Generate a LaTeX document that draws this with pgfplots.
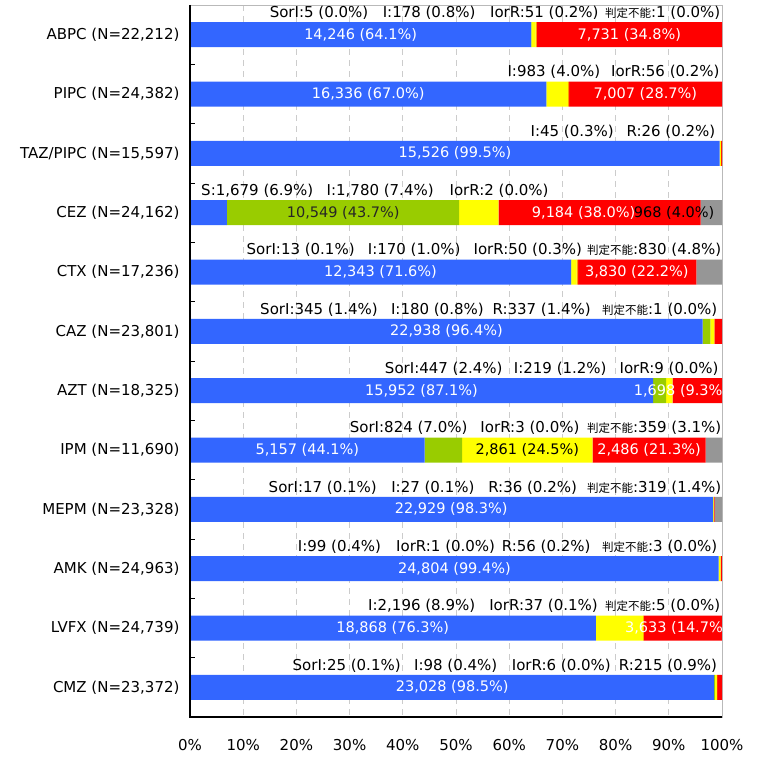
\documentclass[border=0pt]{standalone}
\usepackage{fontspec}
\setmainfont{DejaVu Sans}
\newfontfamily\jp{Noto Sans CJK JP}
\usepackage{pgfplots}
\usepackage{pgfplotstable}
\pgfplotsset{compat=1.18}
\definecolor{cS}{HTML}{3366FF}
\definecolor{cSI}{HTML}{99CC00}
\definecolor{cI}{HTML}{FFFF00}
\definecolor{cIR}{HTML}{FF9900}
\definecolor{cR}{HTML}{FF0000}
\definecolor{cND}{HTML}{969696}
\pgfplotstableread{
y S SorI I IorR R ND
0 64.14 0.02 0.80 0.23 34.81 0.00
1 67.00 0.00 4.03 0.23 28.74 0.00
2 99.54 0.00 0.29 0.00 0.17 0.00
3 6.95 43.66 7.37 0.01 38.01 4.01
4 71.61 0.08 0.99 0.29 22.22 4.81
5 96.37 1.45 0.76 0.00 1.42 0.00
6 87.05 2.44 1.20 0.05 9.26 0.00
7 44.11 7.05 24.47 0.03 21.27 3.07
8 98.29 0.07 0.12 0.00 0.15 1.37
9 99.36 0.00 0.40 0.00 0.22 0.01
10 76.27 0.00 8.88 0.15 14.68 0.02
11 98.53 0.11 0.42 0.03 0.91 0.00
}\data
\newcommand{\JP}{{\jp\fontsize{11.5}{13}\selectfont 判定不能}}
\tikzset{ann/.style={font=\fontsize{15}{17}\selectfont, inner sep=0pt, text=black},
 lab/.style={font=\fontsize{14.5}{16}\selectfont, inner sep=0pt}}
\begin{document}
\begin{tikzpicture}
\useasboundingbox (0pt,0pt) rectangle (761pt,756pt);
\begin{axis}[at={(190pt,39pt)}, anchor=south west, scale only axis,
 width=532pt, height=712pt,
 xbar stacked, bar width=25pt,
 xmin=0, xmax=100, ymin=-0.5, ymax=11.5, y dir=reverse,
 xtick={0,10,...,100}, xticklabel={\pgfmathprintnumber{\tick}\%},
 ytick={0,...,11},
 yticklabels={{ABPC (N=22,212)},{PIPC (N=24,382)},{TAZ/PIPC (N=15,597)},{CEZ (N=24,162)},{CTX (N=17,236)},{CAZ (N=23,801)},{AZT (N=18,325)},{IPM (N=11,690)},{MEPM (N=23,328)},{AMK (N=24,963)},{LVFX (N=24,739)},{CMZ (N=23,372)}},
 extra y ticks={0.5,1.5,...,10.5},
 extra y tick labels={},
 extra y tick style={major tick length=5pt, tick style={black, line width=1pt}},
 major tick length=0pt, tick align=inside,
 xtick pos=bottom, ytick pos=left,
 xmajorgrids, major grid style={dash pattern=on 6pt off 5pt, gray!40, line width=0.8pt},
 axis line style={gray!55, line width=1pt},
 clip=false,
 /pgf/number format/assume math mode=true,
 tick label style={font=\fontsize{15}{17}\selectfont, text=black},
 yticklabel style={xshift=-7pt},
 xticklabel style={yshift=-19pt},
]
\addplot[fill=cS, draw=none] table[x=S, y=y]{\data};
\addplot[fill=cSI, draw=none] table[x=SorI, y=y]{\data};
\addplot[fill=cI, draw=none] table[x=I, y=y]{\data};
\addplot[fill=cIR, draw=none] table[x=IorR, y=y]{\data};
\addplot[fill=cR, draw=none] table[x=R, y=y]{\data};
\addplot[fill=cND, draw=none] table[x=ND, y=y]{\data};
\coordinate (LL) at (axis cs:0,11.5);
\coordinate (UR) at (axis cs:100,-0.5);
\coordinate (BL) at (axis description cs:0,0);
\coordinate (TL) at (axis description cs:0,1);
\coordinate (BR) at (axis description cs:1,0);
% inside label positions
\coordinate (L1) at (axis cs:32.07,0);
\coordinate (L2) at (axis cs:82.6,0);
\coordinate (L3) at (axis cs:33.5,1);
\coordinate (L4) at (axis cs:85.6,1);
\coordinate (L5) at (axis cs:49.8,2);
\coordinate (L6) at (axis cs:28.8,3);
\coordinate (L7) at (axis cs:74.0,3);
\coordinate (L8) at (axis cs:91.0,3);
\coordinate (L9) at (axis cs:35.8,4);
\coordinate (L10) at (axis cs:84.0,4);
\coordinate (L11) at (axis cs:48.2,5);
\coordinate (L12) at (axis cs:43.5,6);
\coordinate (L13) at (axis cs:92.3,6);
\coordinate (L14) at (axis cs:22.06,7);
\coordinate (L15) at (axis cs:63.4,7);
\coordinate (L16) at (axis cs:86.3,7);
\coordinate (L17) at (axis cs:49.1,8);
\coordinate (L18) at (axis cs:49.7,9);
\coordinate (L19) at (axis cs:38.1,10);
\coordinate (L20) at (axis cs:91.5,10);
\coordinate (L21) at (axis cs:49.3,11);
% annotations above bars
\node[ann] at (axis cs:24.25,-0.37) {SorI:5 (0.0\%)};
\node[ann] at (axis cs:44.95,-0.37) {I:178 (0.8\%)};
\node[ann] at (axis cs:66.6,-0.37) {IorR:51 (0.2\%)};
\node[ann] at (axis cs:88.85,-0.37) {\JP:1 (0.0\%)};
\node[ann] at (axis cs:68.4,0.63) {I:983 (4.0\%)};
\node[ann] at (axis cs:89.35,0.63) {IorR:56 (0.2\%)};
\node[ann] at (axis cs:71.85,1.63) {I:45 (0.3\%)};
\node[ann] at (axis cs:90.4,1.63) {R:26 (0.2\%)};
\node[ann] at (axis cs:12.65,2.63) {S:1,679 (6.9\%)};
\node[ann] at (axis cs:35.75,2.63) {I:1,780 (7.4\%)};
\node[ann] at (axis cs:58.1,2.63) {IorR:2 (0.0\%)};
\node[ann] at (axis cs:20.8,3.63) {SorI:13 (0.1\%)};
\node[ann] at (axis cs:42.15,3.63) {I:170 (1.0\%)};
\node[ann] at (axis cs:63.5,3.63) {IorR:50 (0.3\%)};
\node[ann] at (axis cs:87.25,3.63) {\JP:830 (4.8\%)};
\node[ann] at (axis cs:24.25,4.63) {SorI:345 (1.4\%)};
\node[ann] at (axis cs:46.5,4.63) {I:180 (0.8\%)};
\node[ann] at (axis cs:66.1,4.63) {R:337 (1.4\%)};
\node[ann] at (axis cs:88.3,4.63) {\JP:1 (0.0\%)};
\node[ann] at (axis cs:47.7,5.63) {SorI:447 (2.4\%)};
\node[ann] at (axis cs:69.6,5.63) {I:219 (1.2\%)};
\node[ann] at (axis cs:90.05,5.63) {IorR:9 (0.0\%)};
\node[ann] at (axis cs:41.1,6.63) {SorI:824 (7.0\%)};
\node[ann] at (axis cs:63.9,6.63) {IorR:3 (0.0\%)};
\node[ann] at (axis cs:87.25,6.63) {\JP:359 (3.1\%)};
\node[ann] at (axis cs:24.95,7.63) {SorI:17 (0.1\%)};
\node[ann] at (axis cs:45.65,7.63) {I:27 (0.1\%)};
\node[ann] at (axis cs:64.4,7.63) {R:36 (0.2\%)};
\node[ann] at (axis cs:87.25,7.63) {\JP:319 (1.4\%)};
\node[ann] at (axis cs:28.1,8.63) {I:99 (0.4\%)};
\node[ann] at (axis cs:48.05,8.63) {IorR:1 (0.0\%)};
\node[ann] at (axis cs:66.95,8.63) {R:56 (0.2\%)};
\node[ann] at (axis cs:88.3,8.63) {\JP:3 (0.0\%)};
\node[ann] at (axis cs:43.55,9.63) {I:2,196 (8.9\%)};
\node[ann] at (axis cs:66.45,9.63) {IorR:37 (0.1\%)};
\node[ann] at (axis cs:88.85,9.63) {\JP:5 (0.0\%)};
\node[ann] at (axis cs:29.45,10.63) {SorI:25 (0.1\%)};
\node[ann] at (axis cs:49.95,10.63) {I:98 (0.4\%)};
\node[ann] at (axis cs:69.8,10.63) {IorR:6 (0.0\%)};
\node[ann] at (axis cs:89.85,10.63) {R:215 (0.9\%)};
\end{axis}
% axis lines left and bottom
\draw[black, line width=1.3pt] (TL) -- (BL) -- (BR);
\begin{scope}
\clip (LL) rectangle (UR);
\node[lab, text=white] at (L1) {14,246 (64.1\%)};
\node[lab, text=white] at (L2) {7,731 (34.8\%)};
\node[lab, text=white] at (L3) {16,336 (67.0\%)};
\node[lab, text=white] at (L4) {7,007 (28.7\%)};
\node[lab, text=white] at (L5) {15,526 (99.5\%)};
\node[lab, text=black!85] at (L6) {10,549 (43.7\%)};
\node[lab, text=white] at (L7) {9,184 (38.0\%)};
\node[lab, text=black] at (L8) {968 (4.0\%)};
\node[lab, text=white] at (L9) {12,343 (71.6\%)};
\node[lab, text=white] at (L10) {3,830 (22.2\%)};
\node[lab, text=white] at (L11) {22,938 (96.4\%)};
\node[lab, text=white] at (L12) {15,952 (87.1\%)};
\node[lab, text=white] at (L13) {1,698 (9.3\%)};
\node[lab, text=white] at (L14) {5,157 (44.1\%)};
\node[lab, text=black] at (L15) {2,861 (24.5\%)};
\node[lab, text=white] at (L16) {2,486 (21.3\%)};
\node[lab, text=white] at (L17) {22,929 (98.3\%)};
\node[lab, text=white] at (L18) {24,804 (99.4\%)};
\node[lab, text=white] at (L19) {18,868 (76.3\%)};
\node[lab, text=white] at (L20) {3,633 (14.7\%)};
\node[lab, text=white] at (L21) {23,028 (98.5\%)};
\end{scope}
\end{tikzpicture}
\end{document}
